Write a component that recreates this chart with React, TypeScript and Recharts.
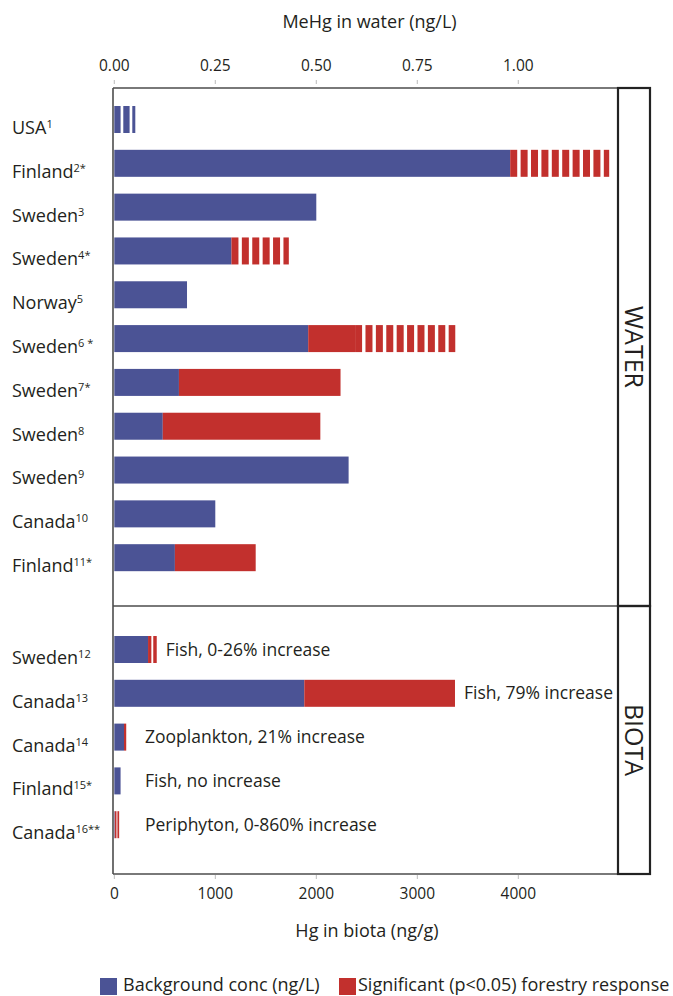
import React from "react";
import { BarChart, Bar, XAxis, YAxis, Label, LabelList, Legend } from "recharts";

const BLUE = "#4b5395";
const RED = "#c2302d";
const INK = "#231f20";
const FRAME = "#4d4d4d";
const FONT = "'Open Sans', 'Noto Sans', sans-serif";

// ---- WATER panel (MeHg in water, ng/L) ----
const waterSites = ["USA", "Finland", "Sweden", "Sweden", "Norway", "Sweden", "Sweden", "Sweden", "Sweden", "Canada", "Finland"];
const waterRefs = ["1", "2*", "3", "4*", "5", "6 *", "7*", "8", "9", "10", "11*"];
const waterBackgroundRange = [0.052, 0, 0, 0, 0, 0, 0, 0, 0, 0, 0];
const waterBackground = [0, 0.98, 0.5, 0.29, 0.18, 0.48, 0.16, 0.12, 0.58, 0.25, 0.15];
const waterSignificant = [0, 0, 0, 0, 0, 0.116, 0.4, 0.39, 0, 0, 0.2];
const waterSignificantRange = [0, 0.245, 0, 0.142, 0, 0.248, 0, 0, 0, 0, 0];
const waterTicks = [0, 0.25, 0.5, 0.75, 1.0];
const waterDomain = [-0.0032, 1.2468];

// ---- BIOTA panel (Hg in biota, ng/g) ----
const biotaSites = ["Sweden", "Canada", "Canada", "Finland", "Canada"];
const biotaRefs = ["12", "13", "14", "15*", "16**"];
const biotaBackground = [334, 1881, 96, 62, 5];
const biotaSignificant = [0, 1492, 22, 0, 0];
const biotaSignificantRange = [86, 0, 0, 0, 43];
const biotaNotes = [
  "Fish, 0-26% increase",
  "Fish, 79% increase",
  "Zooplankton, 21% increase",
  "Fish, no increase",
  "Periphyton, 0-860% increase",
];
const biotaTicks = [0, 1000, 2000, 3000, 4000];
const biotaDomain = [-13, 4987];

// layout constants
const CHART_W = 673;
const LEFT_W = 113;
const SIDE_W = 32;
const RIGHT_M = 23;
const PLOT_RIGHT = CHART_W - RIGHT_M - SIDE_W;

const waterData = waterSites.map((s, i) => ({
  key: s + waterRefs[i],
  bgR: waterBackgroundRange[i],
  bg: waterBackground[i],
  sig: waterSignificant[i],
  rng: waterSignificantRange[i],
}));

const biotaData = biotaSites.map((s, i) => ({
  key: s + biotaRefs[i],
  bgR: 0,
  bg: biotaBackground[i],
  sig: biotaSignificant[i],
  rng: biotaSignificantRange[i],
  note: biotaNotes[i],
}));

const SolidShape = (props: any) => {
  const { x, y, width, height, fill } = props;
  if (!(width > 0.01)) return <g />;
  return <rect x={x} y={y} width={width} height={height} fill={fill} />;
};

const makeStriped = (period: number, on: number) => (props: any) => {
  const { x, y, width, height, fill } = props;
  if (!(width > 0.01)) return <g />;
  const rects: any[] = [];
  if (width < period * 1.2) {
    rects.push(<rect key="a" x={x} y={y} width={width * 0.38} height={height} fill={fill} />);
    rects.push(<rect key="b" x={x + width * 0.6} y={y} width={width * 0.4} height={height} fill={fill} />);
  } else {
    let i = 0;
    for (let s = x; s < x + width - 0.5; s += period) {
      rects.push(<rect key={i++} x={s} y={y} width={Math.min(on, x + width - s)} height={height} fill={fill} />);
    }
  }
  return <g>{rects}</g>;
};

const BlueStripes = makeStriped(9, 6.3);
const RedStripes = makeStriped(10.4, 7);

const makeSiteTick = (sites: string[], refs: string[]) => (props: any) => {
  const { y, payload, index } = props;
  const i = typeof index === "number" ? index : payload.index;
  return (
    <text x={12} y={y + 14} fontSize={18} fill={INK} fontFamily={FONT}>
      {sites[i]}
      <tspan fontSize={11} dy={-6}>{refs[i]}</tspan>
    </text>
  );
};

const TopTick = (props: any) => {
  const { x, y, payload } = props;
  return (
    <g>
      <line x1={x} x2={x} y1={y - 8} y2={y - 4} stroke="#bbbbbb" strokeWidth={1} />
      <text x={x} y={y - 17.5} textAnchor="middle" fontSize={15.5} fill={INK} fontFamily={FONT}>
        {Number(payload.value).toFixed(2)}
      </text>
    </g>
  );
};

const BottomTick = (props: any) => {
  const { x, y, payload } = props;
  return (
    <g>
      <line x1={x} x2={x} y1={y + 1} y2={y + 5} stroke="#bbbbbb" strokeWidth={1} />
      <text x={x} y={y + 24.5} textAnchor="middle" fontSize={15.5} fill={INK} fontFamily={FONT}>
        {String(payload.value)}
      </text>
    </g>
  );
};

// right-hand side panel with rotated title
const makeSidePanel = (title: string) => (props: any) => {
  const vb = props.viewBox || {};
  return (
    <g>
      <rect x={vb.x} y={vb.y} width={vb.width} height={vb.height} fill="none" stroke="#222" strokeWidth={2.2} />
      <text
        transform={`translate(${vb.x + vb.width / 2}, ${vb.y + vb.height / 2}) rotate(90)`}
        textAnchor="middle"
        dy="0.35em"
        fontSize={25}
        fill={INK}
        fontFamily={FONT}
      >
        {title}
      </text>
    </g>
  );
};

// left frame edge (and optional bottom edge) drawn from the Y axis box
const makeLeftFrame = (withBottom: boolean) => (props: any) => {
  const vb = props.viewBox || {};
  const lx = vb.x + vb.width;
  const by = vb.y + vb.height;
  return (
    <g>
      <line x1={lx} x2={lx} y1={vb.y} y2={by} stroke={FRAME} strokeWidth={1.6} />
      {withBottom ? <line x1={lx} x2={PLOT_RIGHT} y1={by} y2={by} stroke={FRAME} strokeWidth={1.6} /> : null}
    </g>
  );
};

const NoteLabel = (props: any) => {
  const { x, y, width, height, value } = props;
  if (!value) return null;
  const end = Number(x) + Number(width);
  const lx = Math.max(end + 9, 145);
  return (
    <text x={lx} y={Number(y) + Number(height) / 2} dy="0.35em" fontSize={17.5} fill={INK} fontFamily={FONT}>
      {value}
    </text>
  );
};

const LegendContent = () => (
  <div
    style={{
      display: "flex",
      alignItems: "flex-start",
      height: 20,
      fontFamily: FONT,
      fontSize: 18,
      color: INK,
      lineHeight: "20px",
      whiteSpace: "nowrap",
    }}
  >
    <div style={{ display: "flex", width: 239 }}>
      <span style={{ display: "inline-block", width: 17, height: 17, background: BLUE, marginTop: 4, marginRight: 6 }} />
      Background conc (ng/L)
    </div>
    <div style={{ display: "flex" }}>
      <span style={{ display: "inline-block", width: 17, height: 17, background: RED, marginTop: 4, marginRight: 2 }} />
      Significant (p&lt;0.05) forestry response
    </div>
  </div>
);

export default function App() {
  return (
    <div style={{ position: "absolute", left: 0, top: 0, width: 673, height: 996, background: "#fff", fontFamily: FONT }}>
      <div style={{ position: "absolute", left: 0, top: 0 }}>
        <BarChart
          width={CHART_W}
          height={612}
          data={waterData}
          layout="vertical"
          margin={{ top: 0, right: RIGHT_M, bottom: 6, left: 0 }}
          barSize={27}
        >
          <XAxis
            type="number"
            orientation="top"
            domain={waterDomain}
            allowDataOverflow
            ticks={waterTicks}
            height={88}
            axisLine={false}
            tickLine={false}
            tickSize={0}
            tickMargin={0}
            tick={<TopTick />}
          >
            <Label
              content={(p: any) => {
                const vb = p.viewBox;
                const by = vb.y + vb.height;
                return (
                  <g>
                    <text x={vb.x + vb.width / 2 + 4} y={vb.y + 28} textAnchor="middle" fontSize={18} fill={INK} fontFamily={FONT}>
                      MeHg in water (ng/L)
                    </text>
                    <line x1={vb.x} x2={vb.x + vb.width} y1={by} y2={by} stroke={FRAME} strokeWidth={1.6} />
                  </g>
                );
              }}
            />
          </XAxis>
          <YAxis
            type="category"
            dataKey="key"
            width={LEFT_W}
            axisLine={false}
            tickLine={false}
            interval={0}
            padding={{ top: 10, bottom: 26 }}
            tick={makeSiteTick(waterSites, waterRefs)}
          >
            <Label content={makeLeftFrame(true)} />
          </YAxis>
          <YAxis
            yAxisId="side"
            orientation="right"
            type="category"
            dataKey="key"
            width={SIDE_W}
            axisLine={false}
            tickLine={false}
            tick={false}
            padding={{ top: 10, bottom: 26 }}
          >
            <Label content={makeSidePanel("WATER")} />
          </YAxis>
          <Bar dataKey="bgR" stackId="w" fill={BLUE} shape={BlueStripes} isAnimationActive={false} legendType="none" />
          <Bar dataKey="bg" stackId="w" fill={BLUE} shape={SolidShape} isAnimationActive={false} />
          <Bar dataKey="sig" stackId="w" fill={RED} shape={SolidShape} isAnimationActive={false} />
          <Bar dataKey="rng" stackId="w" fill={RED} shape={RedStripes} isAnimationActive={false} legendType="none" />
        </BarChart>
      </div>
      <div style={{ position: "absolute", left: 0, top: 600 }}>
        <BarChart
          width={CHART_W}
          height={396}
          data={biotaData}
          layout="vertical"
          margin={{ top: 6, right: RIGHT_M, bottom: 2, left: 0 }}
          barSize={27}
        >
          <XAxis
            type="number"
            orientation="bottom"
            domain={biotaDomain}
            allowDataOverflow
            ticks={biotaTicks}
            height={100}
            axisLine={false}
            tickLine={false}
            tickSize={0}
            tickMargin={0}
            tick={<BottomTick />}
          >
            <Label
              content={(p: any) => {
                const vb = p.viewBox;
                return (
                  <g>
                    <line x1={vb.x} x2={vb.x + vb.width} y1={vb.y} y2={vb.y} stroke={FRAME} strokeWidth={1.6} />
                    <text x={vb.x + vb.width / 2 + 1.5} y={vb.y + 63} textAnchor="middle" fontSize={18} fill={INK} fontFamily={FONT}>
                      Hg in biota (ng/g)
                    </text>
                  </g>
                );
              }}
            />
          </XAxis>
          <YAxis
            type="category"
            dataKey="key"
            width={LEFT_W}
            axisLine={false}
            tickLine={false}
            interval={0}
            padding={{ top: 22, bottom: 27 }}
            tick={makeSiteTick(biotaSites, biotaRefs)}
          >
            <Label content={makeLeftFrame(false)} />
          </YAxis>
          <YAxis
            yAxisId="side"
            orientation="right"
            type="category"
            dataKey="key"
            width={SIDE_W}
            axisLine={false}
            tickLine={false}
            tick={false}
            padding={{ top: 22, bottom: 27 }}
          >
            <Label content={makeSidePanel("BIOTA")} />
          </YAxis>
          <Legend
            verticalAlign="bottom"
            height={20}
            wrapperStyle={{ left: 100, width: 573 }}
            content={() => <LegendContent />}
          />
          <Bar dataKey="bgR" stackId="b" fill={BLUE} shape={BlueStripes} isAnimationActive={false} legendType="none" />
          <Bar dataKey="bg" stackId="b" fill={BLUE} shape={SolidShape} isAnimationActive={false} />
          <Bar dataKey="sig" stackId="b" fill={RED} shape={SolidShape} isAnimationActive={false} />
          <Bar dataKey="rng" stackId="b" fill={RED} shape={RedStripes} isAnimationActive={false} legendType="none">
            <LabelList dataKey="note" content={NoteLabel} />
          </Bar>
        </BarChart>
      </div>
    </div>
  );
}
